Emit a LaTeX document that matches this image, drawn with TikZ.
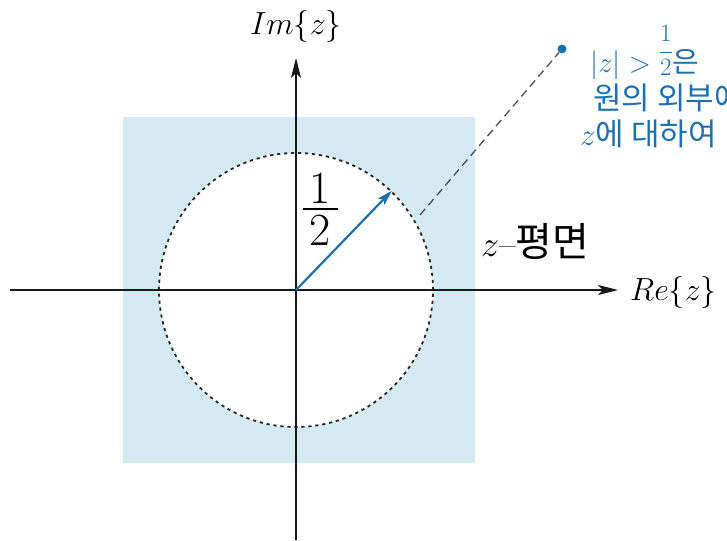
\RequirePackage{fix-cm}
\documentclass[tikz,border=0pt]{standalone}
\usepackage{fontspec}
\usepackage{xcolor}
\usepackage{tikz}
\usetikzlibrary{arrows.meta,positioning}
\newfontfamily\krfont{Noto Sans CJK KR}
\definecolor{zblue}{HTML}{1B70AF}
\definecolor{zfill}{HTML}{D4EAF2}
\newcommand{\halfbar}{\vcenter{\offinterlineskip
  \hbox to 35pt{\hfil 1\hfil}\kern5pt\hrule height 1.3pt\kern5pt
  \hbox to 35pt{\hfil 2\hfil}}}

\begin{document}
\begin{tikzpicture}[
  x=1pt, y=-1pt,
  axis/.style={-{Stealth[length=20pt,width=10pt,inset=5pt]}, draw=black!90, line width=1.3pt},
  rimline/.style={circle, draw=black!85, line width=1.8pt, dash pattern=on 3.2pt off 3.8pt,
                  fill=white, minimum size=274pt, inner sep=0pt},
  vec/.style={-{Stealth[length=15pt,width=9pt,inset=3pt]}, draw=zblue, line width=2.2pt},
  lead/.style={draw=black!70, line width=1.3pt, dash pattern=on 8pt off 5pt},
  lbl/.style={font=\fontsize{32}{36}\selectfont, inner sep=0pt},
  note/.style={font=\krfont\fontsize{31}{36}\selectfont, text=zblue, inner sep=0pt, anchor=base west},
]
\useasboundingbox (0,0) rectangle (727,540);

%============================ REGION ============================
\fill[zfill] (123,117) rectangle (475,463);
\coordinate (O) at (296,290);
\node[rimline] (rim) at (O) {};

%============================ AXES ============================
\coordinate (xl) at (10,290);
\coordinate (xr) at (618,290);
\coordinate (yb) at (296,540);
\coordinate (yt) at (296,58);
\draw[axis] (xl) -- (xr);
\draw[axis] (yb) -- (yt);

\node[lbl] (imlbl) at (296,27) {$Im\{z\}$};
\node[lbl, anchor=west] (relbl) at (630,292) {$Re\{z\}$};

%============================ RADIUS ============================
\draw[vec] (O) -- (rim.46);
\node[font=\fontsize{46}{50}\selectfont, inner sep=0pt] (half) at (320,209) {$\halfbar$};
\node[lbl, font=\fontsize{36}{40}\selectfont, anchor=west] (plane) at (481,241)
  {$z$--{\krfont\fontsize{40}{44}\selectfont 평면}};

%============================ NOTE ============================
\coordinate (leadstart) at (420,215);
\node[circle, fill=zblue, inner sep=0pt, minimum size=9pt] (dot) at (562,49) {};
\draw[lead] (leadstart) -- (dot);

\node[note] (note1) at (590,73)
  {\fontsize{29}{34}\selectfont$|z| > \raisebox{15pt}{\fontsize{25}{28}\selectfont$\displaystyle\frac{1}{2}$}$은};
\node[note] (note2) at (593,110) {원의 외부에};
\node[note] (note3) at (580,146) {$z$에 대하여};

\end{tikzpicture}
\end{document}
